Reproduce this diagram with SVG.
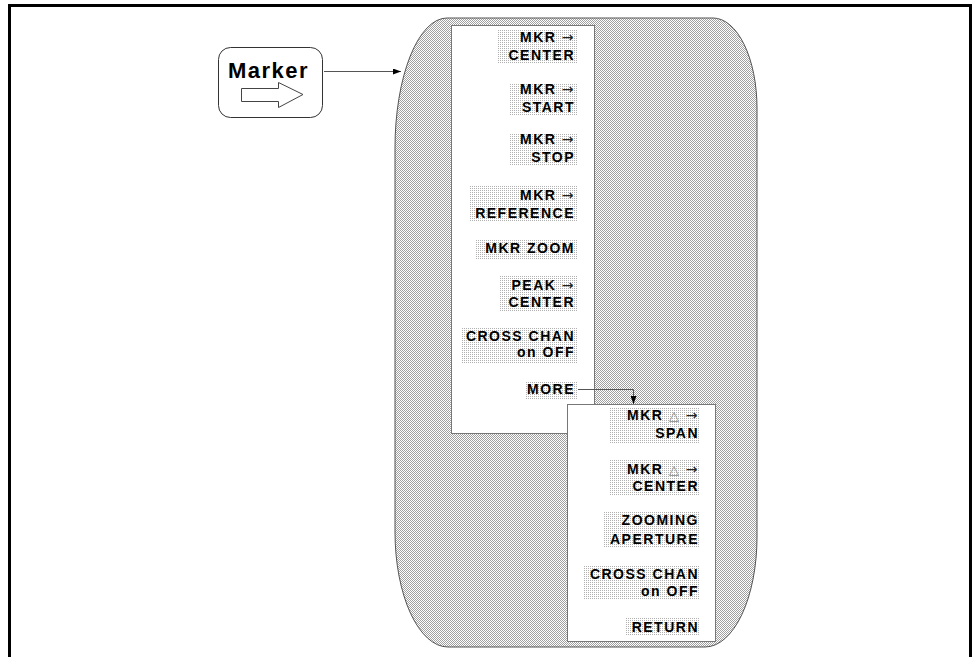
<svg xmlns="http://www.w3.org/2000/svg" width="975" height="657" viewBox="0 0 975 657">
<defs>
<pattern id="checker" width="2" height="2" patternUnits="userSpaceOnUse">
<rect width="2" height="2" fill="#ffffff"/>
<rect x="0" y="0" width="1" height="1" fill="#a0a0a0"/>
<rect x="1" y="1" width="1" height="1" fill="#a0a0a0"/>
</pattern>
<pattern id="dots" width="2" height="2" patternUnits="userSpaceOnUse">
<rect width="2" height="2" fill="#ffffff"/>
<rect x="0" y="0" width="1" height="1" fill="#b0b0b0"/>
</pattern>
<marker id="arr" viewBox="0 0 8 6" refX="8" refY="3" markerWidth="8" markerHeight="6" markerUnits="userSpaceOnUse" orient="auto">
<path d="M0,0 L8,3 L0,6 Z" fill="#000"/>
</marker>
</defs>
<style>
.lbl{font-family:"Liberation Sans","DejaVu Sans",sans-serif;font-size:14px;font-weight:bold;letter-spacing:1.5px;fill:#000;text-anchor:end}
.bg{fill:url(#dots)}
.panel{fill:#ffffff;stroke:#777;stroke-width:1}
.conn{fill:none;stroke:#555;stroke-width:1}
.tri{font-family:"DejaVu Sans",sans-serif;font-weight:normal;font-size:13px;fill:#888}
.ar{font-family:"DejaVu Sans",sans-serif;font-weight:normal;font-size:14px;fill:#222}
</style>
<rect width="975" height="657" fill="#ffffff"/>
<path d="M9.5,657 V5.5 H970.5 V657" fill="none" stroke="#000" stroke-width="3"/>

<g id="menu-shape">
<path d="M447,18 L713,18 A44,90 0 0 1 757,108 L757,537 A52,110 0 0 1 705,647 L448,647 A53,115 0 0 1 395,532 L395,148 A52,130 0 0 1 447,18 Z" fill="url(#checker)" stroke="#555" stroke-width="1"/>
</g>

<g id="marker-key">
<rect x="218.5" y="47.5" width="104" height="70" rx="12" ry="12" fill="#fff" stroke="#333" stroke-width="1"/>
<text x="228" y="78" font-family="Liberation Sans, sans-serif" font-size="22" font-weight="bold" letter-spacing="1.5" fill="#000">Marker</text>
<polygon points="241.5,88.5 278.5,88.5 278.5,82.5 303,94.5 278.5,107.5 278.5,101.5 241.5,101.5" fill="#fff" stroke="#444" stroke-width="1"/>
</g>

<g id="menu1">
<rect class="panel" x="451.5" y="25.5" width="143" height="408"/>
<g id="mkr-center">
<rect class="bg" x="497" y="29" width="80" height="34"/>
<text class="lbl" x="575" y="42">MKR <tspan class="ar">→</tspan></text>
<text class="lbl" x="575" y="60">CENTER</text>
</g>
<g id="mkr-start">
<rect class="bg" x="510" y="83" width="67" height="33"/>
<text class="lbl" x="575" y="94">MKR <tspan class="ar">→</tspan></text>
<text class="lbl" x="575" y="112">START</text>
</g>
<g id="mkr-stop">
<rect class="bg" x="510" y="133" width="67" height="33"/>
<text class="lbl" x="575" y="144">MKR <tspan class="ar">→</tspan></text>
<text class="lbl" x="575" y="162">STOP</text>
</g>
<g id="mkr-reference">
<rect class="bg" x="469" y="186" width="108" height="36"/>
<text class="lbl" x="575" y="200">MKR <tspan class="ar">→</tspan></text>
<text class="lbl" x="575" y="218">REFERENCE</text>
</g>
<g id="mkr-zoom">
<rect class="bg" x="476" y="239" width="101" height="21"/>
<text class="lbl" x="575" y="253">MKR  ZOOM</text>
</g>
<g id="peak-center">
<rect class="bg" x="500" y="275" width="77" height="36"/>
<text class="lbl" x="575" y="290">PEAK <tspan class="ar">→</tspan></text>
<text class="lbl" x="575" y="307">CENTER</text>
</g>
<g id="cross-chan-1">
<rect class="bg" x="461" y="327" width="116" height="36"/>
<text class="lbl" x="575" y="341">CROSS CHAN</text>
<text class="lbl" x="575" y="357">on OFF</text>
</g>
<g id="more">
<rect class="bg" x="525" y="382" width="52" height="18"/>
<text class="lbl" x="575" y="394">MORE</text>
</g>
</g>

<g id="menu2">
<rect class="panel" x="567.5" y="404.5" width="148" height="237"/>
<g id="mkr-delta-span">
<rect class="bg" x="610" y="408" width="90" height="35"/>
<text class="lbl" x="699" y="420">MKR  <tspan class="tri">△</tspan>  <tspan class="ar">→</tspan></text>
<text class="lbl" x="699" y="438">SPAN</text>
</g>
<g id="mkr-delta-center">
<rect class="bg" x="610" y="459" width="90" height="36"/>
<text class="lbl" x="699" y="474">MKR  <tspan class="tri">△</tspan>  <tspan class="ar">→</tspan></text>
<text class="lbl" x="699" y="491">CENTER</text>
</g>
<g id="zooming-aperture">
<rect class="bg" x="603" y="512" width="97" height="36"/>
<text class="lbl" x="699" y="525">ZOOMING</text>
<text class="lbl" x="699" y="544">APERTURE</text>
</g>
<g id="cross-chan-2">
<rect class="bg" x="583" y="566" width="117" height="34"/>
<text class="lbl" x="699" y="579">CROSS CHAN</text>
<text class="lbl" x="699" y="596">on OFF</text>
</g>
<g id="return">
<rect class="bg" x="626" y="618" width="74" height="18"/>
<text class="lbl" x="699" y="632">RETURN</text>
</g>
</g>

<g id="connectors">
<path class="conn" d="M324,71.5 H401" marker-end="url(#arr)"/>
<path class="conn" d="M578,389.5 H633.5 V404" marker-end="url(#arr)"/>
</g>
</svg>
